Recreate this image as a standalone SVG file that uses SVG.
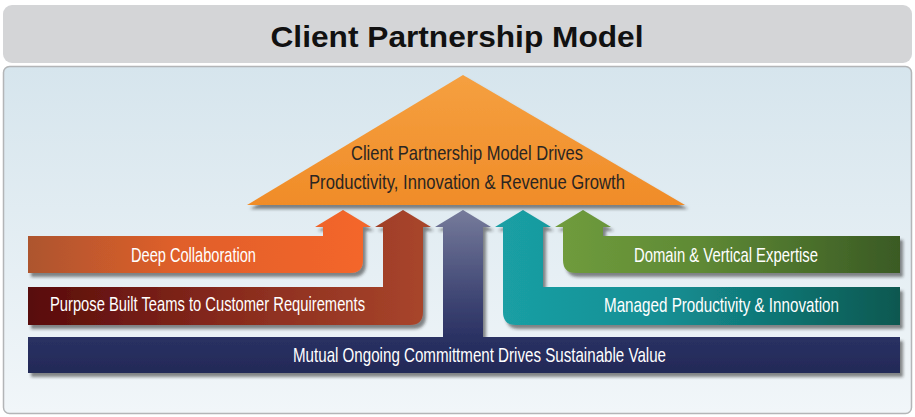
<svg xmlns="http://www.w3.org/2000/svg" width="915" height="417" viewBox="0 0 915 417">
  <defs>
    <style>
      .title { font-family: "Liberation Sans", Arial, sans-serif; font-weight: bold; font-size: 30px; fill: #111111; }
      .tri { font-family: "Liberation Sans", Arial, sans-serif; font-size: 21px; fill: #2a2522; }
      .lbl { font-family: "Liberation Sans", Arial, sans-serif; font-size: 21px; fill: #ffffff; }
    </style>
    <linearGradient id="panelGrad" x1="0" y1="0" x2="0" y2="1">
      <stop offset="0" stop-color="#d6e5ed"/>
      <stop offset="1" stop-color="#f1f6f9"/>
    </linearGradient>
    <linearGradient id="triGrad" x1="0" y1="0" x2="0" y2="1">
      <stop offset="0" stop-color="#f5a040"/>
      <stop offset="1" stop-color="#f08c28"/>
    </linearGradient>
    <linearGradient id="gOrange" gradientUnits="userSpaceOnUse" x1="28" y1="0" x2="363" y2="0">
      <stop offset="0" stop-color="#ad552f"/>
      <stop offset="0.45" stop-color="#e05f2a"/>
      <stop offset="1" stop-color="#f4662a"/>
    </linearGradient>
    <linearGradient id="gBrown" gradientUnits="userSpaceOnUse" x1="28" y1="0" x2="423" y2="0">
      <stop offset="0" stop-color="#580b0b"/>
      <stop offset="0.5" stop-color="#872a1d"/>
      <stop offset="1" stop-color="#a8452b"/>
    </linearGradient>
    <linearGradient id="gNavy" gradientUnits="userSpaceOnUse" x1="0" y1="210" x2="0" y2="373">
      <stop offset="0" stop-color="#767b9b"/>
      <stop offset="0.55" stop-color="#3e4573"/>
      <stop offset="0.8" stop-color="#293062"/>
      <stop offset="1" stop-color="#232a57"/>
    </linearGradient>
    <linearGradient id="gTeal" gradientUnits="userSpaceOnUse" x1="503" y1="0" x2="900" y2="0">
      <stop offset="0" stop-color="#1a9fa4"/>
      <stop offset="0.4" stop-color="#148f94"/>
      <stop offset="1" stop-color="#0b5850"/>
    </linearGradient>
    <linearGradient id="gGreen" gradientUnits="userSpaceOnUse" x1="563" y1="0" x2="900" y2="0">
      <stop offset="0" stop-color="#6f9b3c"/>
      <stop offset="0.4" stop-color="#5f8a35"/>
      <stop offset="1" stop-color="#3a5a24"/>
    </linearGradient>
    <filter id="shadow" x="-10%" y="-20%" width="120%" height="150%">
      <feDropShadow dx="3" dy="4" stdDeviation="1.8" flood-color="#2a2a2a" flood-opacity="0.55"/>
    </filter>
  </defs>

  <rect x="0" y="0" width="915" height="417" fill="#ffffff"/>

  <g id="title">
    <rect x="3" y="5" width="909" height="58" rx="9" fill="#d4d5d7"/>
    <text class="title" x="457" y="47" text-anchor="middle" textLength="373" lengthAdjust="spacingAndGlyphs">Client Partnership Model</text>
  </g>

  <g id="panel">
    <rect x="3.5" y="66.5" width="908" height="347" rx="6" fill="url(#panelGrad)" stroke="#b3b5b7" stroke-width="1.5"/>
  </g>

  <g id="connectors">
    <g id="mutual" filter="url(#shadow)">
      <path d="M 28 337 H 443 V 227 H 435 L 463 210 L 491 227 H 483 V 337 H 900 V 373 H 28 Z" fill="url(#gNavy)"/>
    </g>
    <g id="purpose" filter="url(#shadow)">
      <path d="M 28 287 H 383 V 227 H 375 L 403 210 L 431 227 H 423 V 312 Q 423 325 410 325 H 28 Z" fill="url(#gBrown)"/>
    </g>
    <g id="managed" filter="url(#shadow)">
      <path d="M 900 287 H 543 V 227 H 551 L 523 210 L 495 227 H 503 V 312 Q 503 325 516 325 H 900 Z" fill="url(#gTeal)"/>
    </g>
    <g id="deep" filter="url(#shadow)">
      <path d="M 28 236 H 323 V 227 H 315 L 343 210 L 371 227 H 363 V 260 Q 363 273 350 273 H 28 Z" fill="url(#gOrange)"/>
    </g>
    <g id="domain" filter="url(#shadow)">
      <path d="M 900 236 H 603 V 227 H 611 L 583 210 L 555 227 H 563 V 260 Q 563 273 576 273 H 900 Z" fill="url(#gGreen)"/>
    </g>
  </g>

  <g id="roof">
    <path d="M 463 75 L 685 205 L 247 205 Z" fill="url(#triGrad)" filter="url(#shadow)"/>
    <text class="tri" x="467" y="160" text-anchor="middle" textLength="232" lengthAdjust="spacingAndGlyphs">Client Partnership Model Drives</text>
    <text class="tri" x="467" y="189" text-anchor="middle" textLength="316" lengthAdjust="spacingAndGlyphs">Productivity, Innovation &amp; Revenue Growth</text>
  </g>

  <g id="labels">
    <text class="lbl" x="193.5" y="262" text-anchor="middle" textLength="125" lengthAdjust="spacingAndGlyphs">Deep Collaboration</text>
    <text class="lbl" x="207.5" y="311" text-anchor="middle" textLength="315" lengthAdjust="spacingAndGlyphs">Purpose Built Teams to Customer Requirements</text>
    <text class="lbl" x="479.5" y="362" text-anchor="middle" textLength="373" lengthAdjust="spacingAndGlyphs">Mutual Ongoing Committment Drives Sustainable Value</text>
    <text class="lbl" x="726" y="262" text-anchor="middle" textLength="184" lengthAdjust="spacingAndGlyphs">Domain &amp; Vertical Expertise</text>
    <text class="lbl" x="721.5" y="312" text-anchor="middle" textLength="235" lengthAdjust="spacingAndGlyphs">Managed Productivity &amp; Innovation</text>
  </g>
</svg>
